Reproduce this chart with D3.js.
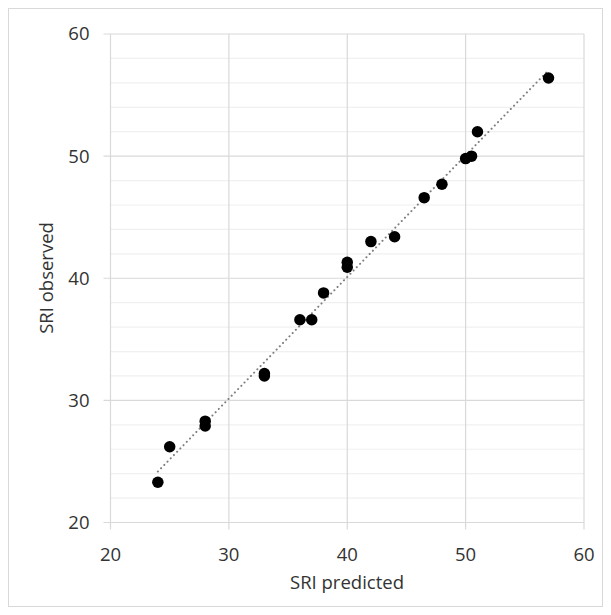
<!DOCTYPE html>
<html>
<head>
<meta charset="utf-8">
<script src="https://cdn.jsdelivr.net/npm/d3@7"></script>
<style>
  body { margin: 0; background: #fff; }
  text { font-family: "Open Sans", "Noto Sans", sans-serif; fill: #333; }
</style>
</head>
<body>
<div id="chart"></div>
<script>
'use strict';

var predicted = [24, 25, 28, 28, 33, 33, 36, 37, 38, 40, 40, 42, 44, 46.5, 48, 50, 50.5, 51, 57];
var observed = [23.3, 26.2, 28.3, 27.9, 32.2, 32.0, 36.6, 36.6, 38.8, 41.3, 40.9, 43.0, 43.4, 46.6, 47.7, 49.8, 50.0, 52.0, 56.4];
var xTicks = [20, 30, 40, 50, 60];
var yTicks = [20, 30, 40, 50, 60];
var yMinor = [22, 24, 26, 28, 32, 34, 36, 38, 42, 44, 46, 48, 52, 54, 56, 58];

var w = 611, h = 615;
var plotLeft = 110.5, plotRight = 584, plotTop = 34, plotBottom = 522.5;

var svg = d3.select('#chart').append('svg')
  .attr('width', w)
  .attr('height', h);

// outer frame
svg.append('rect')
  .attr('x', 8.5).attr('y', 8.5)
  .attr('width', w - 17).attr('height', h - 17)
  .attr('fill', 'white')
  .attr('stroke', '#d9d9d9');

var x = d3.scaleLinear().domain([20, 60]).range([plotLeft, plotRight]);
var y = d3.scaleLinear().domain([20, 60]).range([plotBottom, plotTop]);

// minor gridlines
svg.append('g').selectAll('line').data(yMinor).enter().append('line')
  .attr('x1', plotLeft).attr('x2', plotRight)
  .attr('y1', function(d) { return y(d); })
  .attr('y2', function(d) { return y(d); })
  .attr('stroke', '#f0f0f0')
  .attr('stroke-width', 1.2);

// major gridlines
svg.append('g').selectAll('line').data(yTicks).enter().append('line')
  .attr('x1', plotLeft - 7).attr('x2', plotRight)
  .attr('y1', function(d) { return y(d); })
  .attr('y2', function(d) { return y(d); })
  .attr('stroke', '#d9d9d9')
  .attr('stroke-width', 1.2);
svg.append('g').selectAll('line').data(xTicks).enter().append('line')
  .attr('y1', plotTop).attr('y2', plotBottom + 7)
  .attr('x1', function(d) { return x(d); })
  .attr('x2', function(d) { return x(d); })
  .attr('stroke', '#d9d9d9')
  .attr('stroke-width', 1.2);

// tick labels
svg.append('g').selectAll('text').data(yTicks).enter().append('text')
  .attr('x', plotLeft - 21)
  .attr('y', function(d) { return y(d); })
  .attr('dy', '0.35em')
  .attr('text-anchor', 'end')
  .attr('font-size', 18.5)
  .text(function(d) { return d; });
svg.append('g').selectAll('text').data(xTicks).enter().append('text')
  .attr('x', function(d) { return x(d); })
  .attr('y', plotBottom + 32)
  .attr('dy', '0.35em')
  .attr('text-anchor', 'middle')
  .attr('font-size', 18.5)
  .text(function(d) { return d; });

// axis titles
svg.append('text')
  .attr('x', 347)
  .attr('y', 583)
  .attr('dy', '0.35em')
  .attr('text-anchor', 'middle')
  .attr('font-size', 18.5)
  .text('SRI predicted');
svg.append('text')
  .attr('transform', 'translate(47,278) rotate(-90)')
  .attr('dy', '0.35em')
  .attr('text-anchor', 'middle')
  .attr('font-size', 18.5)
  .text('SRI observed');

// linear trendline
var mx = d3.mean(predicted), my = d3.mean(observed);
var sxy = d3.sum(predicted, function(p, i) { return (p - mx) * (observed[i] - my); });
var sxx = d3.sum(predicted, function(p) { return (p - mx) * (p - mx); });
var slope = sxy / sxx, icpt = my - slope * mx;
var xa = d3.min(predicted), xb = d3.max(predicted);
svg.append('line')
  .attr('x1', x(xa)).attr('y1', y(icpt + slope * xa))
  .attr('x2', x(xb)).attr('y2', y(icpt + slope * xb))
  .attr('stroke', '#7f7f7f')
  .attr('stroke-width', 2)
  .attr('stroke-linecap', 'round')
  .attr('stroke-dasharray', '0.1 4.5');

// points
svg.append('g').selectAll('circle').data(predicted).enter().append('circle')
  .attr('cx', function(d) { return x(d); })
  .attr('cy', function(d, i) { return y(observed[i]); })
  .attr('r', 5.75)
  .attr('fill', 'black');
</script>
</body>
</html>
